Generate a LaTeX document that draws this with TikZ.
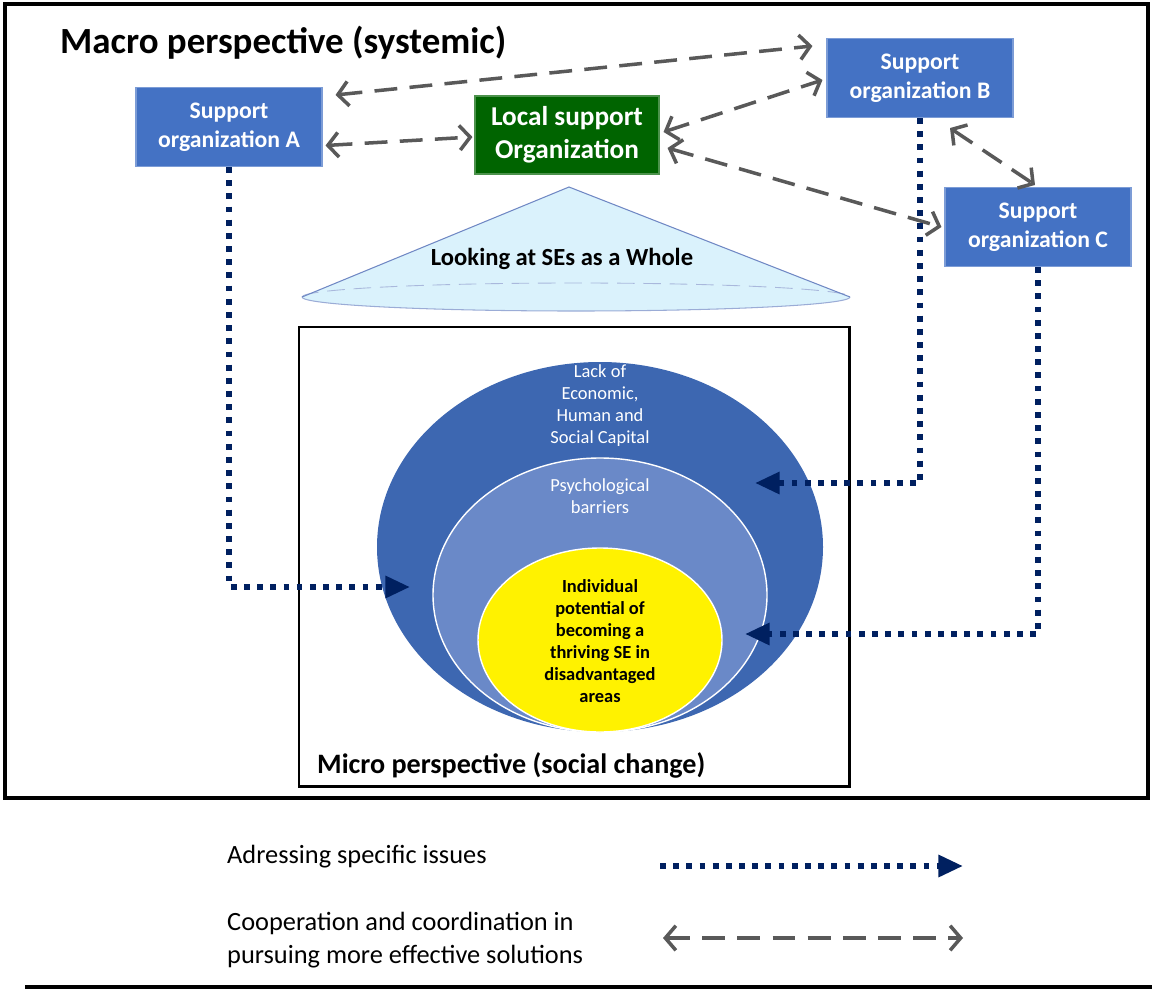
\documentclass[tikz,border=0pt]{standalone}
\usepackage{fontspec}
\setmainfont{Carlito}
\definecolor{orgblue}{RGB}{68,114,196}
\definecolor{localgreen}{RGB}{0,100,0}
\definecolor{coopgray}{RGB}{89,89,89}
\definecolor{issuenavy}{RGB}{0,32,96}
\definecolor{capitalblue}{RGB}{61,103,177}
\definecolor{psychblue}{RGB}{106,137,200}
\definecolor{conefill}{RGB}{218,242,252}
\definecolor{coneline}{RGB}{112,136,196}
\usetikzlibrary{arrows.meta, positioning, calc}

\begin{document}
\begin{tikzpicture}[
  orgbox/.style={draw=orgblue!70!white, line width=0.6pt, fill=orgblue, text=white, align=center,
    font=\fontsize{13.5}{16.5}\selectfont\bfseries, minimum width=3.72cm, minimum height=1.58cm, inner sep=2pt},
  coop/.style={draw=coopgray, line width=2pt, dash pattern=on 13pt off 7pt,
    {Straight Barb[length=6pt,width=14pt]}-{Straight Barb[length=6pt,width=14pt]}},
  issue/.style={draw=issuenavy, line width=3.3pt, dash pattern=on 3.3pt off 4.2pt,
    -{Triangle[length=14pt,width=12pt]}},
  ringtext/.style={text=white, align=center, font=\fontsize{10.5}{12.5}\selectfont},
  legendtext/.style={anchor=west, align=left, font=\fontsize{15}{18.9}\selectfont}
]
  \useasboundingbox (0,0) rectangle (23.04,-19.8);

  % Frames
  \draw[line width=1.9pt] (0.1,-0.08) rectangle (22.96,-15.96);
  \draw[line width=2.3pt] (0.5,-19.74) -- (23.04,-19.74);
  \node[anchor=west, font=\fontsize{21}{25}\selectfont\bfseries] (macro) at (1.08,-0.86) {Macro perspective (systemic)};

  % Organizations
  \node[orgbox] (orgA) at (4.58,-2.54) {Support\\organization A};
  \node[orgbox, fill=localgreen, draw=localgreen!70!white, minimum width=3.68cm, minimum height=1.56cm,
    font=\fontsize{15.5}{18.7}\selectfont\bfseries] (local) at (11.34,-2.70) {Local support\\Organization};
  \node[orgbox] (orgB) at (18.40,-1.56) {Support\\organization B};
  \node[orgbox] (orgC) at (20.76,-4.54) {Support\\organization C};

  % Cone
  \fill[conefill] (11.38,-3.74) -- (6.04,-5.94) arc[start angle=180, end angle=360, x radius=5.48, y radius=0.28] -- cycle;
  \draw[coneline!60!white, line width=0.5pt, dash pattern=on 10pt off 5pt] (6.04,-5.94) arc[start angle=180, end angle=0, x radius=5.48, y radius=0.28];
  \draw[coneline!70!white, line width=0.6pt] (6.04,-5.94) arc[start angle=180, end angle=360, x radius=5.48, y radius=0.28];
  \draw[coneline, line width=0.6pt] (6.04,-5.94) -- (11.38,-3.74) -- (17.0,-5.94);
  \node[font=\fontsize{14}{17}\selectfont\bfseries] (whole) at (11.24,-5.18) {Looking at SEs as a Whole};

  % Micro perspective
  \draw[line width=1.7pt] (5.98,-6.54) rectangle (16.98,-15.72);
  \fill[capitalblue] (12.0,-10.94) ellipse[x radius=4.46, y radius=3.70];
  \filldraw[fill=psychblue, draw=white, line width=0.8pt] (12.0,-11.90) ellipse[x radius=3.34, y radius=2.74];
  \filldraw[fill=yellow, draw=white, line width=0.8pt] (12.0,-12.80) ellipse[x radius=2.44, y radius=1.84];
  \node[ringtext] (capital) at (12.0,-8.11) {Lack of\\Economic,\\Human and\\Social Capital};
  \node[ringtext] (psych) at (12.0,-9.92) {Psychological\\barriers};
  \node[align=center, font=\fontsize{10.5}{12.5}\selectfont\bfseries] (potential) at (12.0,-12.82)
    {Individual\\potential of\\becoming a\\thriving SE in\\disadvantaged\\areas};
  \node[anchor=west, font=\fontsize{16}{19}\selectfont\bfseries] (micro) at (6.22,-15.30) {Micro perspective (social change)};

  % Cooperation
  \draw[coop] ([shift={(0.26,-0.16)}]orgA.north east) -- ([shift={(-0.28,-0.16)}]orgB.north west);
  \draw[coop] ([shift={(0.06,-0.37)}]orgA.east) -- ([shift={(-0.04,-0.04)}]local.west);
  \draw[coop] ([shift={(0.08,0.06)}]local.east) -- ([shift={(-0.08,-0.04)}]orgB.west);
  \draw[coop] ([shift={(0.16,-0.26)}]local.east) -- ([shift={(-0.06,0)}]orgC.west);
  \draw[coop] ([shift={(0.6,-0.2)}]orgB.south) -- ([shift={(-0.06,0.04)}]orgC.north);

  % Specific issues
  \coordinate (inA) at (8.20,-11.74);
  \coordinate (inB) at (15.10,-9.66);
  \coordinate (inC) at (14.90,-12.68);
  \draw[issue] (orgA.south) |- (inA);
  \draw[issue] (orgB.south) |- (inB);
  \draw[issue] (orgC.south) |- (inC);

  % Legend
  \node[legendtext] (issuekey) at (4.42,-17.14) {Adressing specific issues};
  \node[legendtext] (coopkey) at (4.42,-18.80) {Cooperation and coordination in\\pursuing more effective solutions};
  \coordinate (issueS) at (13.2,-17.32);
  \coordinate (issueE) at (19.26,-17.32);
  \coordinate (coopS) at (13.26,-18.76);
  \coordinate (coopE) at (19.26,-18.76);
  \draw[issue] (issueS) -- (issueE);
  \draw[coop] (coopS) -- (coopE);
\end{tikzpicture}
\end{document}
